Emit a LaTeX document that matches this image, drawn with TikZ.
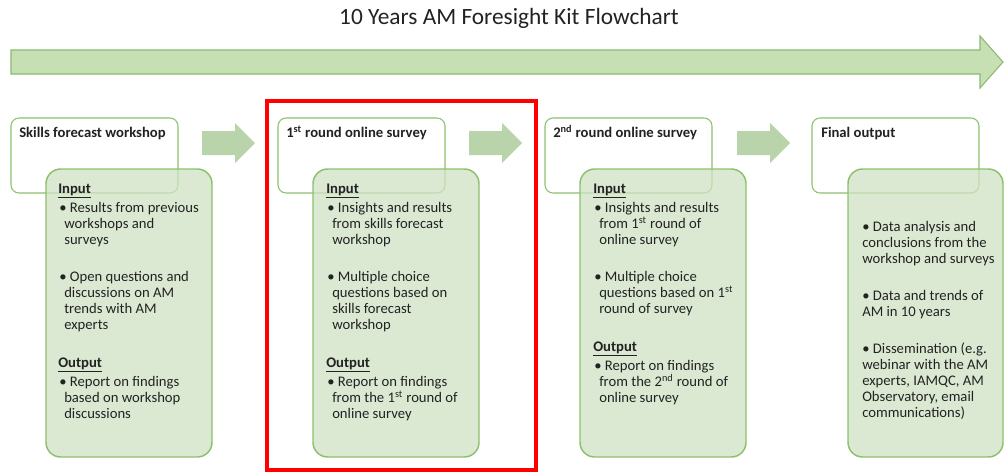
\documentclass[tikz,border=0pt]{standalone}
\usepackage{fontspec}
\setmainfont{Carlito}
\definecolor{bigfill}{HTML}{C6E0B4}
\definecolor{bigdraw}{HTML}{8DB872}
\definecolor{arrowfill}{HTML}{B9D4AA}
\definecolor{boxdraw}{HTML}{8CC06C}
\definecolor{boxfill}{HTML}{CFE2C4}
\definecolor{txtcol}{HTML}{222222}
\begin{document}
\begin{tikzpicture}[x=0.75pt,y=-0.75pt,
  titlebox/.style={draw=boxdraw, line width=0.8pt, rounded corners=6pt, fill=white, minimum width=125.25pt, minimum height=56.25pt, inner sep=0pt},
  greenbox/.style={draw=boxdraw, line width=1.1pt, rounded corners=11pt, fill=boxfill, fill opacity=0.75, draw opacity=1, minimum height=216pt, inner sep=0pt},
  txt/.style={anchor=base west, inner sep=0pt, align=left, font=\fontsize{11}{12}\selectfont, text=txtcol},
  head/.style={anchor=base west, inner sep=0pt, font=\bfseries\fontsize{11}{12}\selectfont, text=txtcol},
  smallarrow/.style={fill=arrowfill, draw=none},
  bigarrow/.style={fill=bigfill, draw=bigdraw, line width=0.8pt}
]
\useasboundingbox (0,0) rectangle (1004,475);

% title
\node[font=\fontsize{17.5}{20}\selectfont, text=txtcol] (title) at (509,18) {10 Years AM Foresight Kit Flowchart};

% big arrow
\filldraw[bigarrow] (11,50) -- (980,50) -- (980,36) -- (1003,62) -- (980,88) -- (980,74) -- (11,74) -- cycle;

% red highlight
\draw[red, line width=3pt] (267,101) rectangle (536,470);

% small arrows
\fill[smallarrow] (202,131) -- (235,131) -- (235,123) -- (255,143) -- (235,163) -- (235,155) -- (202,155) -- cycle;
\fill[smallarrow] (469,131) -- (502,131) -- (502,123) -- (522,143) -- (502,163) -- (502,155) -- (469,155) -- cycle;
\fill[smallarrow] (737,131) -- (770,131) -- (770,123) -- (790,143) -- (770,163) -- (770,155) -- (737,155) -- cycle;

% title boxes
\node[titlebox] (t1) at (94.5,155.5) {};
\node[titlebox] (t2) at (361.5,155.5) {};
\node[titlebox] (t3) at (628.5,155.5) {};
\node[titlebox] (t4) at (895.5,155.5) {};

\node[head] (h1) at (19,137.5) {Skills forecast workshop};
\node[head] (h2) at (286,137.5) {1\textsuperscript{st} round online survey};
\node[head] (h3) at (553,137.5) {2\textsuperscript{nd} round online survey};
\node[head] (h4) at (821,137.5) {Final output};

% green boxes
\node[greenbox, minimum width=124.5pt] (g1) at (129,313) {};
\node[greenbox, minimum width=124.5pt] (g2) at (396,313) {};
\node[greenbox, minimum width=124.5pt] (g3) at (663,313) {};
\node[greenbox, minimum width=116.25pt] (g4) at (925.5,313) {};

% column 1 (node base = baseline of last line)
\node[head] (in1) at (58,193.5) {\underline{Input}};
\node[txt] (p1a) at (59,244.5) {• Results from previous\\\hspace*{3.75pt}workshops and\\\hspace*{3.75pt}surveys};
\node[txt] (p1b) at (59,329.5) {• Open questions and\\\hspace*{3.75pt}discussions on AM\\\hspace*{3.75pt}trends with AM\\\hspace*{3.75pt}experts};
\node[head] (out1) at (58,367.5) {\underline{Output}};
\node[txt] (p1c) at (59,418.5) {• Report on findings\\\hspace*{3.75pt}based on workshop\\\hspace*{3.75pt}discussions};

% column 2
\node[head] (in2) at (326,193.5) {\underline{Input}};
\node[txt] (p2a) at (327,244.5) {• Insights and results\\\hspace*{3.75pt}from skills forecast\\\hspace*{3.75pt}workshop};
\node[txt] (p2b) at (327,329.5) {• Multiple choice\\\hspace*{3.75pt}questions based on\\\hspace*{3.75pt}skills forecast\\\hspace*{3.75pt}workshop};
\node[head] (out2) at (326,367.5) {\underline{Output}};
\node[txt] (p2c) at (327,418.5) {• Report on findings\\\hspace*{3.75pt}from the 1\textsuperscript{st} round of\\\hspace*{3.75pt}online survey};

% column 3
\node[head] (in3) at (593,193.5) {\underline{Input}};
\node[txt] (p3a) at (594,244.5) {• Insights and results\\\hspace*{3.75pt}from 1\textsuperscript{st} round of\\\hspace*{3.75pt}online survey};
\node[txt] (p3b) at (594,313.5) {• Multiple choice\\\hspace*{3.75pt}questions based on 1\textsuperscript{st}\\\hspace*{3.75pt}round of survey};
\node[head] (out3) at (593,351.5) {\underline{Output}};
\node[txt] (p3c) at (594,402.5) {• Report on findings\\\hspace*{3.75pt}from the 2\textsuperscript{nd} round of\\\hspace*{3.75pt}online survey};

% column 4
\node[txt] (p4a) at (862,263.5) {• Data analysis and\\conclusions from the\\workshop and surveys};
\node[txt] (p4b) at (862,316.5) {• Data and trends of\\AM in 10 years};
\node[txt] (p4c) at (862,417.5) {• Dissemination (e.g.\\webinar with the AM\\experts, IAMQC, AM\\Observatory, email\\communications)};
\end{tikzpicture}
\end{document}
